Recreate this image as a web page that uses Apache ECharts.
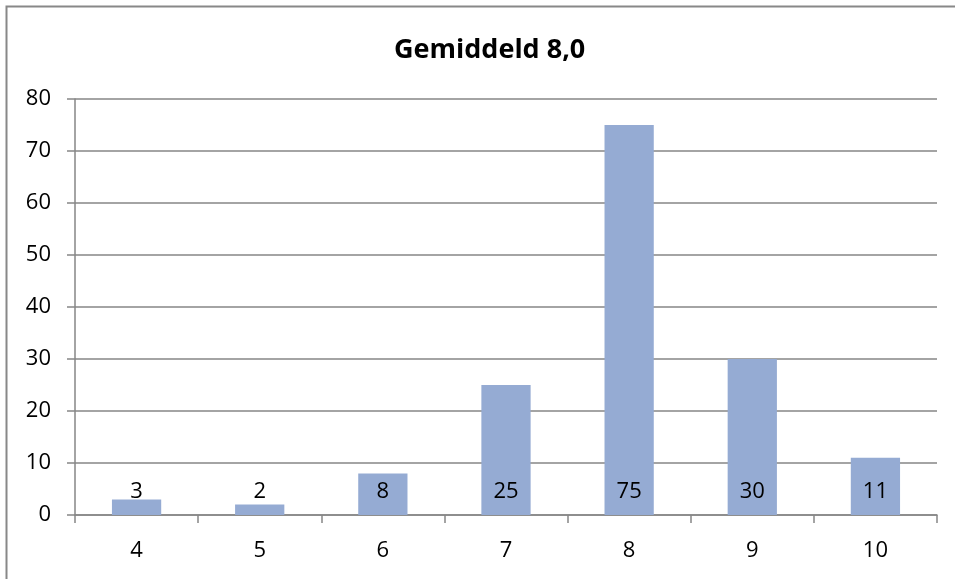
<!DOCTYPE html>
<html><head><meta charset="utf-8">
<script src="https://cdn.jsdelivr.net/npm/echarts@6/dist/echarts.min.js"></script>
<style>html,body{margin:0;padding:0;background:#fff}#c{width:955px;height:579px}</style>
</head><body><div id="c"></div>
<script>
const categories = ['4','5','6','7','8','9','10'];
const values = [3, 2, 8, 25, 75, 30, 11];
const titleText = 'Gemiddeld 8,0';
const font = '"Open Sans", "Liberation Sans", sans-serif';
const chart = echarts.init(document.getElementById('c'), null, {renderer:'canvas'});
chart.setOption({
  animation: false,
  backgroundColor: '#fff',
  title: { text: titleText, left: 389, top: 32,
    textStyle: { fontFamily: font, fontWeight: 'bold', fontSize: 27, color: '#000' } },
  graphic: [{ type: 'rect', shape: { x: 6.5, y: 6.5, width: 1000, height: 1000 },
    style: { fill: 'none', stroke: '#888', lineWidth: 2 }, silent: true, z: -1 }],
  grid: { left: 75, right: 18, top: 99, bottom: 64 },
  xAxis: { type: 'category', data: categories,
    axisLine: { lineStyle: { color: '#868686', width: 1.5 } },
    axisTick: { show: true, length: 8, lineStyle: { color: '#868686', width: 1.5 } },
    axisLabel: { fontFamily: font, fontSize: 22, color: '#000', margin: 25 } },
  yAxis: { type: 'value', min: 0, max: 80, interval: 10,
    axisLine: { show: true, lineStyle: { color: '#868686', width: 1.5 } },
    axisTick: { show: true, length: 8, lineStyle: { color: '#868686', width: 1.5 } },
    splitLine: { lineStyle: { color: '#868686', width: 1.5 } },
    axisLabel: { fontFamily: font, fontSize: 22, color: '#000', margin: 24 } },
  series: [{ type: 'bar', data: values, barWidth: '40%',
    itemStyle: { color: '#95abd3' },
    label: { show: true, position: 'insideBottom', distance: 12,
      fontFamily: font, fontSize: 22, color: '#000' } }]
});
</script></body></html>
